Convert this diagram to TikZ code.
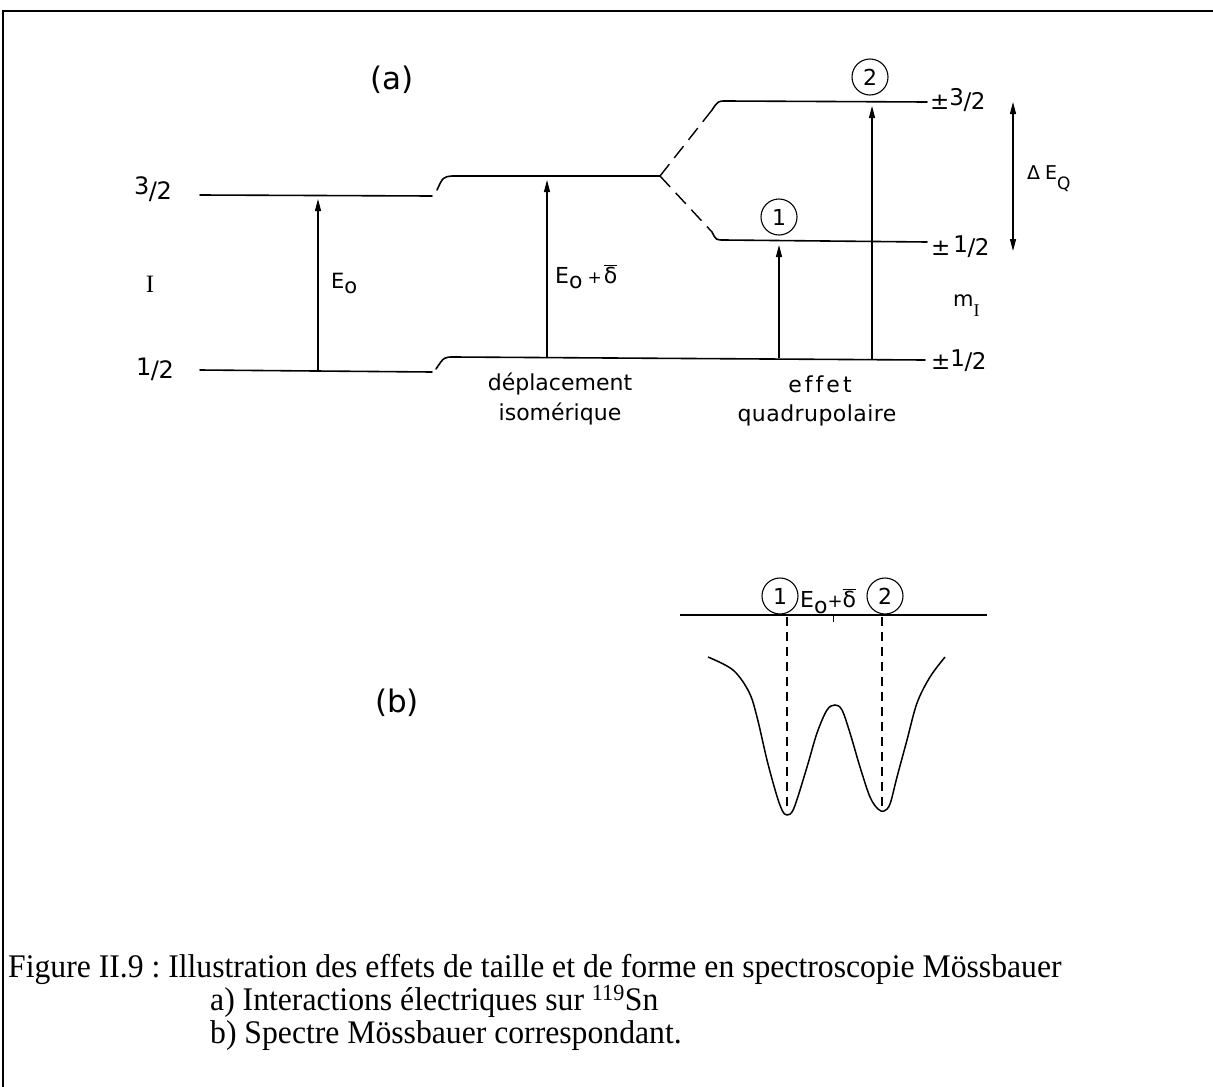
\documentclass[tikz,border=0pt]{standalone}
\usepackage{fontspec}
\setmainfont{Liberation Serif}
\newfontfamily\capfont[FakeStretch=0.96]{Liberation Serif}
\newfontfamily\lett{DejaVu Sans}
\usetikzlibrary{arrows.meta}
\newcommand\myfrac[3][4pt]{\raisebox{#1}{#2}\kern-0.5pt/\kern-0.5pt#3}
\newcommand\dbar{$\overline{\mbox{δ}}$}
\frenchspacing
\begin{document}
\begin{tikzpicture}[x=1pt,y=-1pt,
  lvl/.style={line width=1.6pt, line cap=round},
  splitline/.style={line width=1.4pt, dash pattern=on 15pt off 8pt},
  trans/.style={line width=1.2pt, -{Triangle[length=12pt,width=6pt]}},
  twoway/.style={line width=1.2pt, {Triangle[length=12pt,width=6pt]}-{Triangle[length=12pt,width=6pt]}},
  lab/.style={inner sep=0pt, font=\lett\fontsize{22}{26}\selectfont},
  sml/.style={inner sep=0pt, font=\lett\fontsize{23}{26}\selectfont},
  num/.style={circle, draw, line width=1.1pt, minimum size=36pt, inner sep=0pt, font=\lett\fontsize{22}{26}\selectfont},
  captext/.style={inner sep=0pt, anchor=base west, text height=22pt, text depth=5pt, font=\capfont\fontsize{33}{36}\selectfont\frenchspacing},
  vdash/.style={line width=1.1pt, dash pattern=on 9pt off 6pt},
  spectrum/.style={line width=1.5pt}
]
\useasboundingbox (0,0) rectangle (1213,1087);
% frame
\coordinate (fr1) at (1213,11);
\coordinate (fr2) at (3,11);
\coordinate (fr3) at (3,1087);
\draw[line width=1.5pt] (fr1) -- (fr2) -- (fr3);

% ----- part (a) -----
\node[inner sep=0pt, font=\lett\fontsize{31}{36}\selectfont] (pa) at (392,80) {(a)};

% unperturbed levels
\coordinate (u1) at (200,195);
\coordinate (u2) at (432,196);
\coordinate (l1) at (200,370);
\coordinate (l2) at (432,372);
\draw[lvl] (u1) -- (u2);
\draw[lvl] (l1) -- (l2);

% isomer-shifted levels
\coordinate (us1) at (437,190);
\coordinate (us2) at (452,176);
\coordinate (sp) at (660,176);
\draw[lvl] (us1) .. controls (443,177) .. (us2) -- (sp);
\coordinate (ls1) at (436,369);
\coordinate (ls2) at (454,357);
\coordinate (g2) at (925,360);
\draw[lvl] (ls1) .. controls (444,357) .. (ls2) -- (g2);

% quadrupole split levels
\coordinate (a1) at (712,110);
\coordinate (a2) at (726,101);
\coordinate (hi2) at (927,102);
\draw[splitline] (sp) -- (a1);
\draw[lvl] (a1) .. controls (718,101) .. (a2) -- (hi2);
\coordinate (b1) at (712,232);
\coordinate (b2) at (724,240);
\coordinate (mid2) at (927,242);
\draw[splitline] (sp) -- (b1);
\draw[lvl] (b1) .. controls (716,240) .. (b2) -- (mid2);

% transitions
\coordinate (t1a) at (318,370); \coordinate (t1b) at (318,199);
\coordinate (t2a) at (547,357); \coordinate (t2b) at (547,180);
\coordinate (t3a) at (779,358); \coordinate (t3b) at (779,245);
\coordinate (t4a) at (872,359); \coordinate (t4b) at (872,106);
\coordinate (dq1) at (1013,102); \coordinate (dq2) at (1013,251);
\draw[trans] (t1a) -- (t1b);
\draw[trans] (t2a) -- (t2b);
\draw[trans] (t3a) -- (t3b);
\draw[trans] (t4a) -- (t4b);
\draw[twoway] (dq1) -- (dq2);

% labels
\node[lab, anchor=base west, font=\lett\fontsize{24}{28}\selectfont] (l32) at (134,199) {\myfrac[5pt]{3}{2}};
\node[lab, anchor=base west, font=\lett\fontsize{24}{28}\selectfont] (l12) at (136,378) {\myfrac[3pt]{1}{2}};
\node[inner sep=0pt, font=\rmfamily\fontsize{25}{28}\selectfont] (Ilab) at (150,284) {I};
\node[lab, anchor=base west, font=\lett\fontsize{21}{25}\selectfont] (E0) at (331,288) {E\raisebox{-5pt}{o}};
\node[lab, anchor=base west] (E0d) at (555,283) {E\raisebox{-5pt}{o}\hspace{5pt}{\fontsize{17}{20}\selectfont+}\hspace{2pt}\dbar};
\node[lab, anchor=base west, font=\lett\fontsize{19}{22}\selectfont] (dEQ) at (1027,179) {{\fontsize{19}{22}\selectfont Δ}\hspace{5pt}E\raisebox{-10pt}{\fontsize{17}{20}\selectfont Q}};
\node[sml, anchor=base west] (p32) at (930,109) {±\myfrac[4pt]{3}{2}};
\node[sml, anchor=base west] (p12a) at (931,255) {±\hspace{3pt}\myfrac[3pt]{1}{2}};
\node[sml, anchor=base west] (p12b) at (931,369) {±\myfrac[3pt]{1}{2}};
\node[lab, anchor=base west, font=\lett\fontsize{21}{24}\selectfont] (mI) at (953,306) {m\raisebox{-10pt}{\rmfamily\fontsize{18}{20}\selectfont I}};
\node[lab, anchor=base] (dep1) at (560,390) {déplacement};
\node[lab, anchor=base] (dep2) at (560,420) {isomérique};
\node[lab, anchor=base] (qe1) at (820,392) {\addfontfeatures{Ligatures=NoCommon,LetterSpace=14}effet};
\node[lab, anchor=base] (qe2) at (817,421) {\addfontfeatures{LetterSpace=2}quadrupolaire};
\node[num] (c1) at (779,217) {1};
\node[num] (c2) at (870,77) {2};

% ----- part (b) -----
\node[inner sep=0pt, font=\lett\fontsize{31}{36}\selectfont] (pb) at (397,703) {(b)};
\coordinate (ax1) at (680,615);
\coordinate (ax2) at (987,615);
\draw[line width=1.5pt] (ax1) -- (ax2);
\coordinate (tk1) at (833,615);
\coordinate (tk2) at (833,622);
\draw[line width=1pt] (tk1) -- (tk2);
\node[num] (c3) at (780,596) {1};
\node[num] (c4) at (885,596) {2};
\node[sml, anchor=base west, font=\lett\fontsize{22}{26}\selectfont] (E0db) at (800,607) {E\raisebox{-6pt}{o}{\fontsize{18}{20}\selectfont+}\dbar};
\coordinate (d1a) at (787,617); \coordinate (d1b) at (787,807);
\coordinate (d2a) at (882,617); \coordinate (d2b) at (882,807);
\draw[vdash] (d1a) -- (d1b);
\draw[vdash] (d2a) -- (d2b);
\draw[spectrum] plot[smooth, tension=0.55] coordinates {
 (708,657) (733,670) (749,692) (757,717) (767,760) (776,793) (782,810) (787,815)
 (794,808) (807,767) (817,733) (827,710) (835,705) (842,710) (850,733) (860,767)
 (870,797) (878,809) (884,811) (890,804) (897,777) (907,740) (917,703) (930,677) (945,657)};

% ----- caption -----
\node[captext] (cap1) at (8,977) {Figure II.9 : Illustration des effets de taille et de forme en spectroscopie Mössbauer};
\node[captext] (cap2) at (210,1010) {a) Interactions électriques sur \textsuperscript{119}Sn};
\node[captext] (cap3) at (210,1043) {b) Spectre Mössbauer correspondant.};
\end{tikzpicture}
\end{document}
